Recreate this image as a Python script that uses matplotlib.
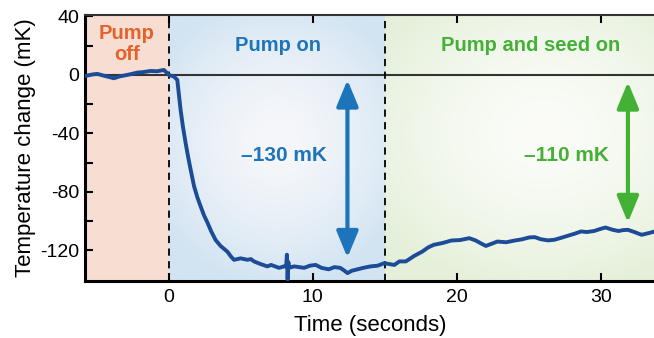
import matplotlib
matplotlib.use('Agg')
import matplotlib.pyplot as plt
import numpy as np
from matplotlib.colors import to_rgb
from matplotlib.patches import FancyArrowPatch

plt.rcParams['font.family'] = ['Liberation Sans', 'DejaVu Sans']

# trace (time in s, temperature change in mK)
time_s = [-5.76, -5.3, -4.95, -4.5, -4.1, -3.8, -3.4, -2.87, -2.5, -2.17, -1.8, -1.25,
          -0.8, -0.33, 0.02, 0.37, 0.6, 0.83, 1.0, 1.18, 1.35, 1.53, 1.76, 2.0,
          2.22, 2.45, 2.69, 2.95, 3.26, 3.6, 4.08, 4.3, 4.53, 5.0, 5.47, 5.7,
          5.92, 6.4, 6.85, 7.1, 7.66, 8.0, 8.15, 8.2, 8.25, 8.3, 8.35, 8.7,
          9.4, 9.8, 10.2, 10.6, 11.1, 11.5, 11.9, 12.2, 12.4, 12.7, 13.1, 13.5,
          14.0, 14.5, 14.95, 15.65, 16.0, 16.45, 17.0, 17.6, 18.0, 18.4, 19.0,
          19.6, 20.2, 20.85, 21.3, 21.7, 22.0, 22.4, 22.8, 23.4, 24.0, 24.5,
          25.0, 25.4, 25.8, 26.3, 26.75, 27.2, 27.7, 28.2, 28.6, 29.0, 29.5,
          29.9, 30.3, 30.8, 31.2, 31.5, 31.85, 32.3, 32.8, 33.3, 33.75]
temp_mK = [-0.7, 0.3, 0.7, -0.5, -1.5, -2.3, -1.0, 0.0, 0.8, 1.6, 1.9, 2.7,
           2.5, 3.4, 0.0, -1.1, -3.4, -24, -36, -46.7, -56, -65, -76, -84,
           -90, -96, -101, -107, -113, -117, -121, -124, -126.5, -125.5, -126.5, -126,
           -127.6, -129.5, -131, -130, -132, -131, -131, -123, -140, -128, -132, -131,
           -132, -130.5, -130, -132, -133, -131.5, -132, -134, -135.6, -134, -133, -132,
           -131, -130.5, -128.8, -130, -127.6, -127.6, -124, -120.8, -118, -116.2, -115,
           -113.3, -113, -111.7, -113.3, -115.5, -117, -115.5, -114, -114.5, -113.3, -112.5,
           -111.2, -111, -112.4, -113.2, -112.8, -111.5, -110, -108.5, -107.1, -107.5, -106.8,
           -105.5, -104.4, -106, -106.8, -106.2, -106, -107.5, -109.4, -108.2, -107]

# phase boundaries (s)
pump_on_t = 0
seed_on_t = 15
x_min, x_max = -5.8, 33.75
y_min, y_max = -141, 41

# arrows (x, y_top, y_bottom)
arrow_pump = (12.4, -3.4, -125)
arrow_seed = (31.85, -4.8, -101)

c_off = '#f7ddd2'
c_on_edge = '#d2e4f2'
c_seed_edge = '#e5f0da'
c_curve = '#1c4b97'
c_orange = '#e4622a'
c_blue = '#1d74bb'
c_green = '#45b036'

fig = plt.figure(figsize=(6.54, 3.38), dpi=100)
ax = fig.add_axes([85 / 654, 1 - 281 / 338, 1 - 85 / 654 + 0.002, (281 - 15) / 338])


def radial(x0, x1, cx, cy, rx, ry, edge, centre):
    xs = np.linspace(x0, x1, 200)
    ys = np.linspace(y_min, y_max, 200)
    X, Y = np.meshgrid(xs, ys)
    r = np.sqrt(((X - cx) / rx) ** 2 + ((Y - cy) / ry) ** 2)
    f = np.clip(r, 0, 1) ** 1.6
    e = np.array(to_rgb(edge))
    c = np.array(to_rgb(centre))
    img = c[None, None, :] * (1 - f[..., None]) + e[None, None, :] * f[..., None]
    ax.imshow(img, extent=(x0, x1, y_min, y_max), origin='lower', aspect='auto',
              zorder=0, interpolation='bilinear')


ax.axvspan(x_min, pump_on_t, color=c_off, lw=0, zorder=0)
radial(pump_on_t, seed_on_t, 7.5, -45, 9.5, 100, c_on_edge, '#f6f7fa')
radial(seed_on_t, x_max, 26.0, -40, 13.5, 110, c_seed_edge, '#fbfcf8')

ax.axhline(0, color='#333333', lw=1.5, zorder=1)
ax.axvline(pump_on_t, color='black', lw=1.3, ls=(0, (4, 3)), zorder=2)
ax.axvline(seed_on_t, color='black', lw=1.3, ls=(0, (4, 3)), zorder=2)

ax.plot(time_s, temp_mK, color=c_curve, lw=2.8, zorder=3)

for (ax_x, y0, y1), col in [(arrow_pump, c_blue), (arrow_seed, c_green)]:
    arr = FancyArrowPatch((ax_x, y1), (ax_x, y0),
                          arrowstyle='<|-|>,head_length=0.8,head_width=0.33',
                          mutation_scale=20, color=col, lw=3, zorder=4,
                          shrinkA=0, shrinkB=0)
    ax.add_patch(arr)

ax.text(-2.9, 21, 'Pump\noff', color=c_orange, fontsize=14.5, fontweight='bold',
        ha='center', va='center', linespacing=1.1)
ax.text(7.55, 20, 'Pump on', color=c_blue, fontsize=14.5, fontweight='bold',
        ha='center', va='center')
ax.text(25.1, 20, 'Pump and seed on', color=c_green, fontsize=14.5, fontweight='bold',
        ha='center', va='center')
ax.text(8.0, -55, '\u2013130 mK', color=c_blue, fontsize=15, fontweight='bold',
        ha='center', va='center')
ax.text(27.6, -55, '\u2013110 mK', color=c_green, fontsize=15, fontweight='bold',
        ha='center', va='center')

ax.set_xlim(x_min, x_max)
ax.set_ylim(y_min, y_max)
ax.set_xticks([0, 10, 20, 30])
ax.set_yticks([-120, -80, -40, 0, 40])
ax.set_yticklabels(['-120', '-80', '-40', '0', '40'])
ax.set_yticks([-100, -60, -20, 20], minor=True)
ax.tick_params(axis='both', which='both', direction='in', labelsize=14,
               width=1.5, length=6, top=True)
ax.tick_params(axis='y', which='minor', length=6, width=1.5)
ax.tick_params(axis='x', pad=6)
ax.tick_params(axis='y', pad=4)

ax.spines['right'].set_visible(False)
for s in ['left', 'bottom']:
    ax.spines[s].set_linewidth(2.2)
ax.spines['top'].set_linewidth(1.5)
ax.spines['top'].set_color('#333333')

ax.set_xlabel('Time (seconds)', fontsize=16, labelpad=6)
ax.set_ylabel('Temperature change (mK)', fontsize=16, labelpad=3)

fig.savefig('out.png', dpi=100)
